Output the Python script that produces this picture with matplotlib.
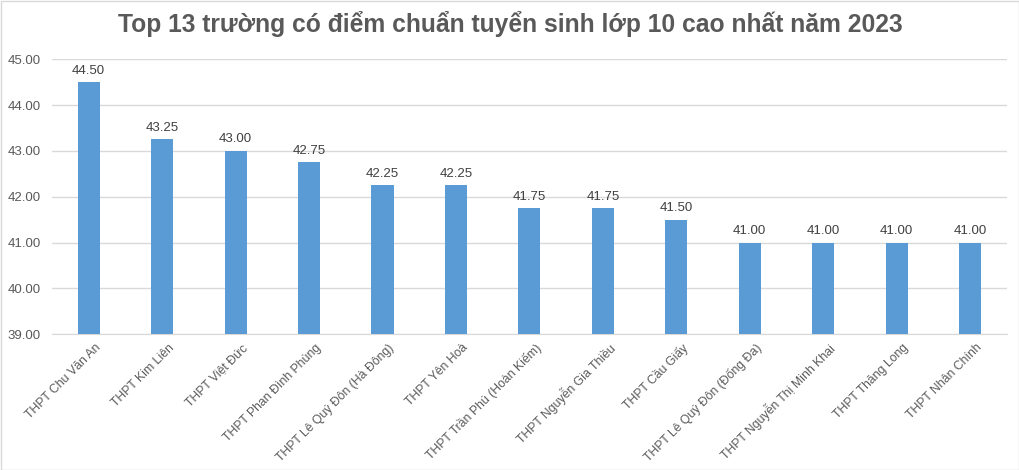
import numpy as np
import matplotlib.pyplot as plt
import matplotlib.transforms as mtransforms

plt.rcParams['font.family'] = ['Liberation Sans', 'DejaVu Sans']

truong = ['THPT Chu Văn An', 'THPT Kim Liên', 'THPT Việt Đức', 'THPT Phan Đình Phùng',
          'THPT Lê Quý Đôn (Hà Đông)', 'THPT Yên Hoà', 'THPT Trần Phú (Hoàn Kiếm)',
          'THPT Nguyễn Gia Thiều', 'THPT Cầu Giấy', 'THPT Lê Quý Đôn (Đống Đa)',
          'THPT Nguyễn Thị Minh Khai', 'THPT Thăng Long', 'THPT Nhân Chính']
diem = [44.50, 43.25, 43.00, 42.75, 42.25, 42.25, 41.75, 41.75, 41.50, 41.00, 41.00, 41.00, 41.00]
yticks = [39, 40, 41, 42, 43, 44, 45]
day = 39

grey = '#595959'
fig = plt.figure(figsize=(10.2, 4.7), dpi=100)
fig.patches.append(plt.Rectangle((0.001, 0.001), 0.998, 0.997, transform=fig.transFigure,
                                 fill=False, edgecolor='#D9D9D9', linewidth=1))
ax = fig.add_axes([0.051, 0.289, 0.936, 0.585])

x = np.arange(len(truong))
ax.bar(x, np.array(diem) - day, bottom=day, width=0.3, color='#5B9BD5', zorder=3)
for xi, v in zip(x, diem):
    ax.text(xi, v + 0.12, '%.2f' % v, ha='center', va='bottom', fontsize=9.5, color='#404040')

ax.set_xlim(-0.5, len(truong) - 0.5)
ax.set_ylim(39, 45)
ax.set_yticks(yticks)
ax.set_yticklabels(['%.2f' % t for t in yticks])
ax.yaxis.grid(True, color='#D9D9D9', linewidth=1, zorder=0)

# nhãn trục x xoay 45 độ, dịch sang phải một chút như Excel
ax.set_xticks(x)
ax.set_xticklabels([])
dich = ax.get_xaxis_transform() + mtransforms.ScaledTranslation(10 / 100, -12 / 100, fig.dpi_scale_trans)
for xi, ten in zip(x, truong):
    ax.text(xi, 0, ten, transform=dich, rotation=45, ha='right', va='center',
            rotation_mode='anchor', fontsize=8.8, color=grey)

ax.tick_params(axis='both', length=0, colors=grey)
ax.tick_params(axis='y', pad=8, labelsize=9.5)
for s in ['top', 'right', 'left']:
    ax.spines[s].set_visible(False)
ax.spines['bottom'].set_color('#D9D9D9')

fig.text(0.5, 0.948, 'Top 13 trường có điểm chuẩn tuyển sinh lớp 10 cao nhất năm 2023',
         ha='center', va='center', fontsize=17.7, fontweight='bold', color=grey)

fig.savefig('out.png', dpi=100)
